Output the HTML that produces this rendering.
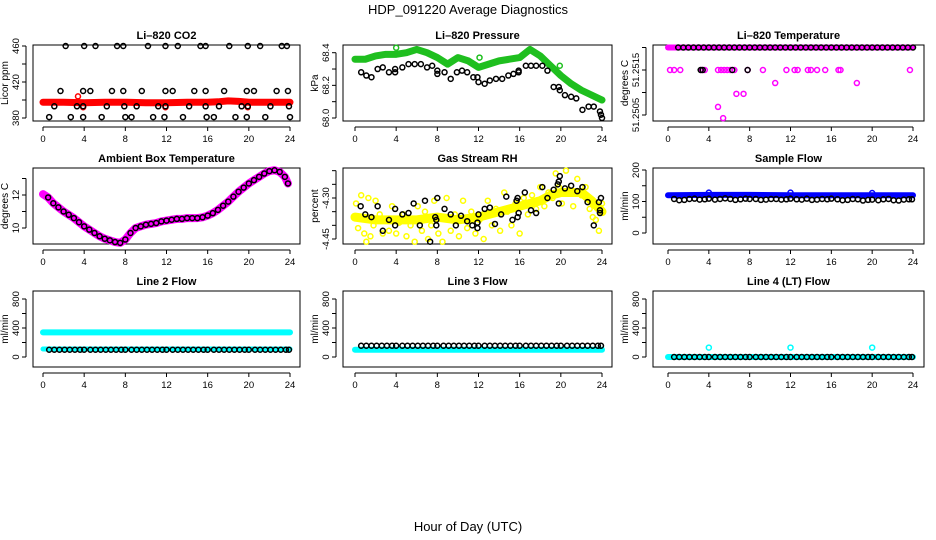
<!DOCTYPE html>
<html><head><meta charset="utf-8"><style>
body{margin:0;background:#fff;}
svg{display:block;font-family:"Liberation Sans",sans-serif;}
</style></head><body>
<svg id="c" width="936" height="540" viewBox="0 0 936 540">
<text x="468" y="14" text-anchor="middle" font-size="13">HDP_091220  Average Diagnostics</text>
<text x="468" y="531" text-anchor="middle" font-size="13">Hour of Day (UTC)</text>
</svg>
<script>
// ---- data ----
const xTicks=[0,4,8,12,16,20,24];
const co2BlackHours=[2.2,4.0,5.1,7.2,7.8,10.2,11.9,13.1,15.3,15.8,18.1,19.9,21.1,23.2,23.7, 1.7,3.9,4.6,6.7,7.8,9.6,11.9,12.6,14.7,15.8,17.6,19.8,20.5,22.7,23.8, 1.1,3.3,3.9,6.2,7.9,9.1,11.2,11.9,14.2,15.8,17.1,19.3,19.9,22.1,23.9, 0.6,2.7,3.9,5.7,8.0,8.6,10.7,11.8,13.6,15.9,16.6,18.7,19.8,21.6,24.0];
const co2BlackVals=[460,460,460,460,460,460,460,460,460,460,460,460,460,460,460, 410,410,410,410,410,410,410,410,410,410,410,410,410,410,410, 393,393,393,393,393,393,393,393,393,393,393,393,393,393,393, 381,381,381,381,381,381,381,381,381,381,381,381,381,381,381];
const co2RedHours=[0,2,4,6,8,10,12,14,16,17,18,19,20,22,24];
const co2RedVals=[397.5,397.5,397,397.5,397.5,397,397,397.5,397.5,398,399,398.5,397.5,397.5,397.5];
const co2RedOutH=[3.4,3.9,11.9,19.9]; const co2RedOutV=[404,392,392,392];

const presGreenHours=[0,1,2,3,4,5,6,7,8,9,10,11,12,13,14,15,16,17,18,19,20,21,22,23,24];
const presGreenVals=[68.36,68.36,68.38,68.39,68.39,68.40,68.42,68.40,68.37,68.33,68.37,68.35,68.31,68.33,68.35,68.36,68.37,68.42,68.38,68.32,68.26,68.21,68.17,68.14,68.11];
const presGreenOutH=[4.0,12.1,19.9]; const presGreenOutV=[68.43,68.37,68.32];
const presBlackHours=[0.6,1.1,1.6,2.2,2.7,3.3,3.9,3.9,4.6,5.2,5.8,6.4,7.0,7.5,8.0,8.0,8.7,9.3,9.9,10.4,10.9,11.5,11.9,12.0,12.6,13.1,13.7,14.3,14.9,15.4,15.9,15.9,16.6,17.1,17.6,18.2,18.7,19.3,19.8,19.9,20.4,21.0,21.5,22.1,22.7,23.2,23.8,23.9,24.0];
const presBlackVals=[68.28,68.26,68.25,68.30,68.31,68.28,68.30,68.28,68.31,68.33,68.33,68.33,68.31,68.32,68.29,68.27,68.28,68.24,68.28,68.29,68.28,68.25,68.25,68.22,68.21,68.23,68.24,68.24,68.26,68.27,68.29,68.28,68.32,68.32,68.32,68.32,68.29,68.19,68.19,68.17,68.14,68.13,68.12,68.05,68.07,68.07,68.04,68.02,68.00];

const tempMagHours=[0.2,0.6,1.2,3.3,3.6,4.9,5.2,5.5,5.8,6.1,6.5,7.8,9.3,11.6,12.4,12.7,13.7,14.0,14.6,15.4,16.7,16.9,23.7,10.5,18.5,6.7,7.4,4.9,5.4];
const tempMagVals=[51.2515,51.2515,51.2515,51.2515,51.2515,51.2515,51.2515,51.2515,51.2515,51.2515,51.2515,51.2515,51.2515,51.2515,51.2515,51.2515,51.2515,51.2515,51.2515,51.2515,51.2515,51.2515,51.2515,51.25121,51.25121,51.25097,51.25097,51.25068,51.25043];
const tempTopHours=[0,24]; const tempTopVals=[51.2520,51.2520];
const tempBlackHours=[1.0,1.5,2.0,2.5,3.0,3.5,4.0,4.5,5.0,5.5,6.0,6.5,7.0,7.5,8.0,8.5,9.0,9.5,10.0,10.5,11.0,11.5,12.0,12.5,13.0,13.5,14.0,14.5,15.0,15.5,16.0,16.5,17.0,17.5,18.0,18.5,19.0,19.5,20.0,20.5,21.0,21.5,22.0,22.5,23.0,23.5,24.0,3.2,3.4,6.3,7.8];
const tempBlackVals=[51.2520,51.2520,51.2520,51.2520,51.2520,51.2520,51.2520,51.2520,51.2520,51.2520,51.2520,51.2520,51.2520,51.2520,51.2520,51.2520,51.2520,51.2520,51.2520,51.2520,51.2520,51.2520,51.2520,51.2520,51.2520,51.2520,51.2520,51.2520,51.2520,51.2520,51.2520,51.2520,51.2520,51.2520,51.2520,51.2520,51.2520,51.2520,51.2520,51.2520,51.2520,51.2520,51.2520,51.2520,51.2520,51.2520,51.2520,51.2515,51.2515,51.2515,51.2515];

const ambHours=[0,0.5,1,1.5,2,2.5,3,3.5,4,4.5,5,5.5,6,6.5,7,7.5,8,8.5,9,9.5,10,10.5,11,11.5,12,12.5,13,13.5,14,14.5,15,15.5,16,16.5,17,17.5,18,18.5,19,19.5,20,20.5,21,21.5,22,22.5,23,23.5,23.8];
const ambVals=[12.05,11.85,11.5,11.25,11.0,10.8,10.6,10.35,10.1,9.9,9.7,9.5,9.35,9.25,9.15,9.1,9.3,9.7,10.0,10.1,10.2,10.25,10.3,10.4,10.45,10.5,10.55,10.55,10.6,10.6,10.6,10.65,10.75,10.9,11.1,11.35,11.6,11.9,12.2,12.45,12.7,12.9,13.1,13.3,13.45,13.5,13.4,13.1,12.7];

const rhMeanHours=[0,2,4,6,8,10,12,14,15,16,18,19,20,21,22,23,24];
const rhMeanVals=[-4.37,-4.38,-4.38,-4.38,-4.37,-4.38,-4.37,-4.35,-4.34,-4.33,-4.31,-4.29,-4.28,-4.28,-4.28,-4.31,-4.35];
const rhYellowHours=[0.1,0.3,0.6,0.9,1.1,1.3,1.5,1.8,2.0,2.4,2.7,3.0,3.3,3.6,4.0,4.3,4.7,5.0,5.4,5.8,6.1,6.5,6.8,7.1,7.4,7.7,8.1,8.5,8.9,9.3,9.7,10.1,10.5,10.9,11.3,11.7,12.1,12.5,12.9,13.3,13.7,14.1,14.5,14.8,15.2,15.6,16.0,16.4,16.8,17.2,17.6,18.0,18.4,18.8,19.2,19.5,19.8,20.1,20.5,20.8,21.2,21.6,22.0,22.4,22.8,23.1,23.4,23.7,24.0];
const rhYellowVals=[-4.32,-4.41,-4.29,-4.43,-4.46,-4.30,-4.44,-4.40,-4.31,-4.36,-4.43,-4.38,-4.42,-4.33,-4.43,-4.39,-4.36,-4.44,-4.40,-4.46,-4.33,-4.42,-4.35,-4.45,-4.40,-4.31,-4.43,-4.46,-4.30,-4.42,-4.36,-4.44,-4.31,-4.41,-4.35,-4.43,-4.38,-4.45,-4.31,-4.40,-4.34,-4.42,-4.28,-4.35,-4.40,-4.32,-4.43,-4.30,-4.36,-4.29,-4.34,-4.26,-4.33,-4.28,-4.30,-4.21,-4.26,-4.32,-4.20,-4.27,-4.33,-4.23,-4.29,-4.26,-4.34,-4.37,-4.38,-4.42,-4.32];
const rhBlackHours=[0.55,1.0,1.6,2.2,2.7,3.3,3.9,3.9,4.6,5.2,5.7,6.3,6.8,7.3,7.8,7.9,7.9,8.0,8.7,9.3,9.8,10.3,10.9,11.4,11.9,11.9,12.0,12.6,13.1,13.6,14.2,14.7,15.3,15.7,15.8,15.8,15.9,16.5,17.1,17.6,18.2,18.7,19.3,19.7,19.8,19.8,19.9,20.4,21.0,21.6,22.1,22.6,23.2,23.7,23.8,23.8,23.9];
const rhBlackVals=[-4.33,-4.36,-4.37,-4.33,-4.42,-4.38,-4.34,-4.40,-4.36,-4.355,-4.32,-4.40,-4.31,-4.46,-4.37,-4.38,-4.40,-4.30,-4.34,-4.36,-4.40,-4.365,-4.385,-4.40,-4.39,-4.41,-4.36,-4.34,-4.335,-4.395,-4.36,-4.295,-4.38,-4.31,-4.30,-4.37,-4.355,-4.28,-4.345,-4.355,-4.26,-4.30,-4.27,-4.25,-4.24,-4.32,-4.22,-4.265,-4.255,-4.275,-4.26,-4.315,-4.40,-4.315,-4.345,-4.355,-4.30];

const halfHours=[0.6,1.1,1.6,2.1,2.6,3.1,3.6,4.0,4.6,5.1,5.6,6.1,6.6,7.1,7.6,8.0,8.6,9.1,9.6,10.1,10.6,11.1,11.6,12.0,12.6,13.1,13.6,14.1,14.6,15.1,15.6,16.0,16.6,17.1,17.6,18.1,18.6,19.1,19.6,20.0,20.6,21.1,21.6,22.1,22.6,23.1,23.6,23.9];
const sampleBlackVals=[108,104,105,108,109,106,107,109,106,108,110,108,105,107,109,108,108,105,106,108,108,106,107,109,107,106,109,105,106,108,107,109,107,104,105,108,107,103,105,106,104,107,108,104,103,106,107,107];
const sampleBlueHours=[0,4,8,12,16,20,24]; const sampleBlueVals=[120,121,121,120,120,120,120];
const sampleBlueOutH=[4.0,12.0,20.0]; const sampleBlueOutV=[128,128,127];
const line2CyanHours=[0,24]; const line2CyanVals=[340,340];
const line2CyanLowHours=[0,24]; const line2CyanLowVals=[110,110];
const line2BlackVals=[100,100,100,100,100,100,100,100,100,100,100,100,100,100,100,100,100,100,100,100,100,100,100,100,100,100,100,100,100,100,100,100,100,100,100,100,100,100,100,100,100,100,100,100,100,100,100,100];
const line3CyanHours=[0,24]; const line3CyanVals=[100,100];
const line3BlackVals=[155,155,155,155,155,155,155,155,155,155,155,155,155,155,155,155,155,155,155,155,155,155,155,155,155,155,155,155,155,155,155,155,155,155,155,155,155,155,155,155,155,155,155,155,155,155,155,155];
const line4CyanHours=[0,24]; const line4CyanVals=[0,0];
const line4CyanOutH=[4.0,12.0,20.0]; const line4CyanOutV=[130,130,130];
const line4BlackVals=[0,0,0,0,0,0,0,0,0,0,0,0,0,0,0,0,0,0,0,0,0,0,0,0,0,0,0,0,0,0,0,0,0,0,0,0,0,0,0,0,0,0,0,0,0,0,0,0];

// ---- rendering ----
const NS='http://www.w3.org/2000/svg';
const svg=document.getElementById('c');
function mk(tag,at,parent){const e=document.createElementNS(NS,tag);for(const k in at)e.setAttribute(k,at[k]);(parent||svg).appendChild(e);return e;}
const cols=[{l:33,r:300,x0:43,x1:290},{l:343,r:612,x0:355,x1:602},{l:653,r:924,x0:668,x1:913}];
const rows=[{t:45,b:121},{t:168,b:244},{t:291,b:367}];
function panel(ci,ri,name,title,ylab,v0,y0,v1,y1,ticks,labels){
  const c=cols[ci],r=rows[ri];
  const g=mk('g',{});
  
  
  const X=h=>c.x0+(c.x1-c.x0)*h/24;
  const Y=v=>y0+(y1-y0)*(v-v0)/(v1-v0);
  const box=mk('rect',{x:c.l,y:r.t,width:c.r-c.l,height:r.b-r.t,fill:'none',stroke:'#000','stroke-width':1},g);
  
  
  const tt=mk('text',{x:(c.l+c.r)/2,y:r.t-6,'text-anchor':'middle','font-size':11,'font-weight':'bold'},g);
  tt.textContent=title;
  
  
  const ax=c.l-7;
  const ya=mk('line',{x1:ax,x2:ax,y1:Y(ticks[0]),y2:Y(ticks[ticks.length-1]),stroke:'#000'},g);
  
  
  ticks.forEach(v=>{mk('line',{x1:ax,x2:ax-4,y1:Y(v),y2:Y(v),stroke:'#000'},g);});
  labels.forEach(v=>{const t=mk('text',{x:ax-7,y:Y(v),'text-anchor':'middle','font-size':9.5,transform:`rotate(-90 ${ax-7} ${Y(v)})`},g);t.textContent=String(v);
    
    });
  const yl=mk('text',{x:c.l-25,y:(r.t+r.b)/2,'text-anchor':'middle','font-size':10,transform:`rotate(-90 ${c.l-25} ${(r.t+r.b)/2})`},g);
  yl.textContent=ylab;
  
  
  const by=r.b+6;
  const xa=mk('line',{x1:X(0),x2:X(24),y1:by,y2:by,stroke:'#000'},g);
  
  
  xTicks.forEach(h=>{mk('line',{x1:X(h),x2:X(h),y1:by,y2:by+4,stroke:'#000'},g);
    const t=mk('text',{x:X(h),y:by+15,'text-anchor':'middle','font-size':9.5},g);t.textContent=h;
    
    });
  const clip='clip'+ci+ri;
  const cp=mk('clipPath',{id:clip},g);mk('rect',{x:c.l,y:r.t-4,width:c.r-c.l,height:r.b-r.t+8},cp);
  const pg=mk('g',{'clip-path':`url(#${clip})`},g);
  return {
    band(hs,vs,color,w,nm){const p=mk('polyline',{points:hs.map((h,i)=>X(h)+','+Y(vs[i])).join(' '),fill:'none',stroke:color,'stroke-width':w,'stroke-linejoin':'round','stroke-linecap':'round'},pg);
      
      },
    pts(hs,vs,color,nm){hs.forEach((h,i)=>{const e=mk('circle',{cx:X(h),cy:Y(vs[i]),r:2.5,fill:'none',stroke:color,'stroke-width':1.5},pg);
      
      });}
  };
}
let p;
p=panel(0,0,'co2-panel','Li\u2013820 CO2','Licor ppm',380,118,460,46,[380,400,420,440,460],[380,420,460]);
p.band(co2RedHours,co2RedVals,'#f00',7,'co2-red-band');p.pts(co2RedOutH,co2RedOutV,'#f00','co2-red-point');
p.pts(co2BlackHours,co2BlackVals,'#000','co2-black-point');

p=panel(1,0,'pressure-panel','Li\u2013820 Pressure','kPa',68.0,118,68.4,52.7,[68.0,68.1,68.2,68.3,68.4],['68.0','68.2','68.4']);
p.band(presGreenHours,presGreenVals,'#1fbf1f',7,'pressure-green-band');p.pts(presGreenHours,presGreenVals,'#1fbf1f','pressure-green-point');p.pts(presGreenOutH,presGreenOutV,'#1fbf1f','pressure-green-point');
p.pts(presBlackHours,presBlackVals,'#000','pressure-black-point');

p=panel(2,0,'temperature-panel','Li\u2013820 Temperature','degrees C',51.2505,115,51.2515,70,[51.2505,51.2510,51.2515,51.2520],['51.2505','51.2515']);
p.band(tempTopHours,tempTopVals,'#f0f',6,'temperature-magenta-band');
p.pts(tempMagHours,tempMagVals,'#f0f','temperature-magenta-point');
p.pts(tempBlackHours,tempBlackVals,'#000','temperature-black-point');

p=panel(0,1,'ambient-panel','Ambient Box Temperature','degrees C',10,228,12,195,[10,11,12,13],[10,12]);
p.band(ambHours,ambVals,'#f0f',8,'ambient-magenta-band');
p.pts(ambHours.slice(1),ambVals.slice(1),'#000','ambient-black-point');

p=panel(1,1,'rh-panel','Gas Stream RH','percent',-4.30,198,-4.45,239,[-4.45,-4.40,-4.35,-4.30,-4.25,-4.20],['-4.45','-4.30']);
p.band(rhMeanHours,rhMeanVals,'#ff0',9,'rh-yellow-band');
p.pts(rhYellowHours,rhYellowVals,'#ff0','rh-yellow-point');
p.pts(rhBlackHours,rhBlackVals,'#000','rh-black-point');

p=panel(2,1,'sample-flow-panel','Sample Flow','ml/min',0,233,200,170,[0,50,100,150,200],[0,100,200]);
p.band(sampleBlueHours,sampleBlueVals,'#00f',6,'sample-blue-band');p.pts(sampleBlueOutH,sampleBlueOutV,'#00f','sample-blue-point');
p.pts(halfHours,sampleBlackVals,'#000','sample-black-point');

const fl=[0,200,400,600,800],fll=[0,400,800];
p=panel(0,2,'line2-flow-panel','Line 2 Flow','ml/min',0,357,800,299,fl,fll);
p.band(line2CyanHours,line2CyanVals,'#0ff',6,'line2-cyan-band');p.band(line2CyanLowHours,line2CyanLowVals,'#0ff',5,'line2-cyan-low-band');
p.pts(halfHours,line2BlackVals,'#000','line2-black-point');

p=panel(1,2,'line3-flow-panel','Line 3 Flow','ml/min',0,357,800,299,fl,fll);
p.band(line3CyanHours,line3CyanVals,'#0ff',6,'line3-cyan-band');
p.pts(halfHours,line3BlackVals,'#000','line3-black-point');

p=panel(2,2,'line4-flow-panel','Line 4 (LT) Flow','ml/min',0,357,800,299,fl,fll);
p.band(line4CyanHours,line4CyanVals,'#0ff',6,'line4-cyan-band');p.pts(line4CyanOutH,line4CyanOutV,'#0ff','line4-cyan-point');
p.pts(halfHours,line4BlackVals,'#000','line4-black-point');
</script>
</body></html>
